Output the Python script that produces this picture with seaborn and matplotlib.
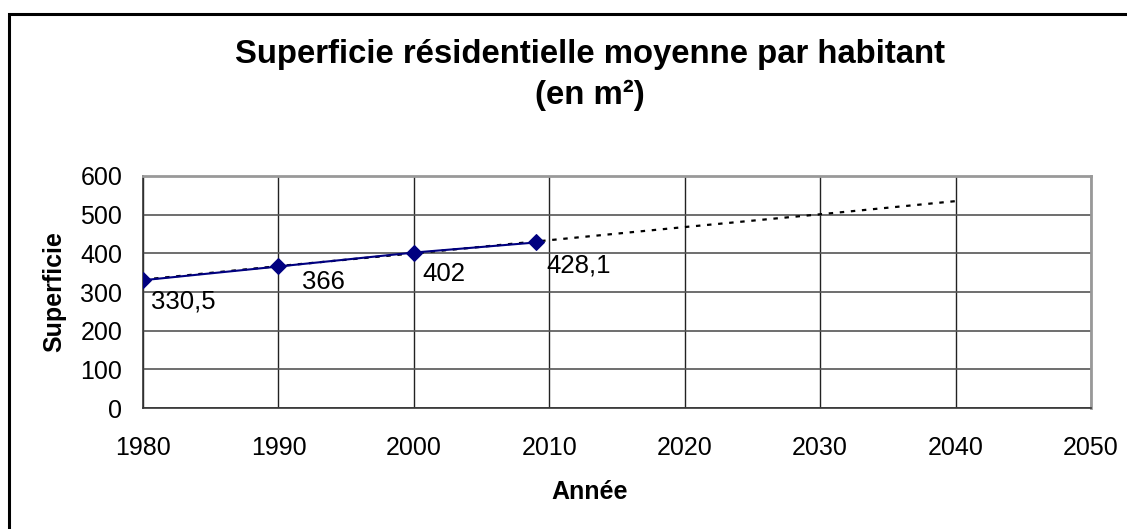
import matplotlib
matplotlib.use("Agg")
import matplotlib.pyplot as plt
import numpy as np
import pandas as pd
import seaborn as sns

# measured values
years = [1980, 1990, 2000, 2009]
surface = [330.5, 366, 402, 428.1]
labels = ["330,5", "366", "402", "428,1"]

# dotted trend line
trend_years = [1980, 1990, 2000, 2010, 2020, 2030, 2040]
trend_values = [332, 367, 400, 434, 468, 501, 535]

x_ticks = [1980, 1990, 2000, 2010, 2020, 2030, 2040, 2050]
y_ticks = [0, 100, 200, 300, 400, 500, 600]

sns.set_style("white")
plt.rcParams['font.family'] = ['Liberation Sans', 'DejaVu Sans']
plt.rcParams['text.color'] = 'black'
plt.rcParams['axes.labelcolor'] = 'black'
plt.rcParams['xtick.color'] = 'black'
plt.rcParams['ytick.color'] = 'black'

df = pd.DataFrame({"Année": years, "Superficie": surface})
df_trend = pd.DataFrame({"Année": trend_years, "Superficie": trend_values})

fig = plt.figure(figsize=(11.27, 5.29), dpi=100)
ax = fig.add_axes([0.1269, 0.2287, 0.8412, 0.4386])

# outer frame of the chart (right and bottom edges fall outside the image)
fig.patches.append(plt.Rectangle((9 / 1127, -0.1), 1.2, 1 - 14 / 529 + 0.1,
                                 transform=fig.transFigure, fill=False,
                                 edgecolor="black", linewidth=2.2, zorder=0))

sns.lineplot(data=df_trend, x="Année", y="Superficie", ax=ax, color="black",
             linestyle=(0, (2, 3)), linewidth=1.6, zorder=3)
sns.lineplot(data=df, x="Année", y="Superficie", ax=ax, color="#000080",
             marker="D", markersize=8.5, markeredgecolor="#000080",
             linewidth=1.5, zorder=4)

offsets = [(6, -15), (17, -11), (6, -15.5), (7.5, -16.3)]
for x, y, lab, off in zip(years, surface, labels, offsets):
    ax.annotate(lab, (x, y), xytext=off, textcoords="offset points",
                ha="left", va="center", fontsize=18.5)

ax.set_xlim(1980, 2050)
ax.set_ylim(0, 600)
ax.set_xticks(x_ticks)
ax.set_yticks(y_ticks)
ax.tick_params(axis="both", direction="out", length=6, width=1,
               color="#333333", labelsize=18)
ax.tick_params(axis="x", pad=14)
ax.tick_params(axis="y", pad=9)

ax.yaxis.grid(True, color="#555555", linewidth=1.2)
ax.xaxis.grid(True, color="#222222", linewidth=1)
ax.set_axisbelow(True)
for side in ["left", "bottom"]:
    ax.spines[side].set_color("#333333")
    ax.spines[side].set_linewidth(1.2)
for side in ["top", "right"]:
    ax.spines[side].set_visible(True)
    ax.spines[side].set_color("#999999")
    ax.spines[side].set_linewidth(2)

ax.set_xlabel("Année", fontsize=18, fontweight="bold", va="center")
ax.set_ylabel("Superficie", fontsize=18, fontweight="bold", va="center")
ax.xaxis.set_label_coords(0.4715, -0.362)
ax.yaxis.set_label_coords(-0.094, 0.5)

fig.text(590 / 1127, 1 - 63 / 529, "Superficie résidentielle moyenne par habitant",
         ha="center", va="baseline", fontsize=23.7, fontweight="bold")
fig.text(590 / 1127, 1 - 104 / 529, "(en m²)",
         ha="center", va="baseline", fontsize=23.7, fontweight="bold")

fig.savefig("out.png", dpi=100)
